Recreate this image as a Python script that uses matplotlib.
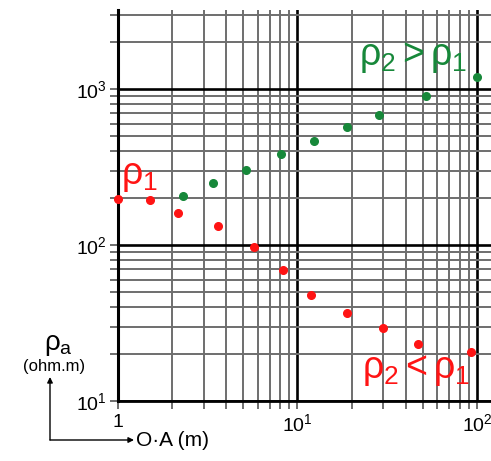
import numpy as np
import matplotlib
matplotlib.use("Agg")
import matplotlib.pyplot as plt

plt.rcParams["font.family"] = ["Liberation Sans", "DejaVu Sans"]
plt.rcParams["mathtext.fontset"] = "custom"
plt.rcParams["mathtext.rm"] = "Liberation Sans"
plt.rcParams["mathtext.it"] = "Liberation Sans"
plt.rcParams["mathtext.bf"] = "Liberation Sans:bold"

# apparent resistivity curves
oa_low = [1.0, 1.51, 2.16, 3.61, 5.72, 8.3, 11.9, 18.9, 29.9, 46.9, 92.6]
rho_low = [198, 196, 161, 132, 97, 69, 47.7, 36.6, 29.3, 23.1, 20.5]

oa_high = [2.30, 3.38, 5.17, 8.09, 12.4, 18.9, 28.5, 52.0, 100.0]
rho_high = [207, 251, 303, 385, 467, 574, 685, 908, 1203]

x_ticks = [1, 10, 100]
x_labels = ["1", r"$10^1$", r"$10^2$"]
y_ticks = [10, 100, 1000]
y_labels = [r"$10^1$", r"$10^2$", r"$10^3$"]

red = "#ff1414"
green = "#17883a"

fig = plt.figure(figsize=(4.91, 4.61), dpi=100)
ax = fig.add_axes([118 / 491, 1 - 401 / 461, 1 - 118 / 491, 391 / 461])
ax.set_xscale("log")
ax.set_yscale("log")
ax.set_xlim(1, 119.7)
ax.set_ylim(10, 3220)

ax.grid(which="minor", color="#6e6e6e", lw=1.4)
ax.grid(which="major", color="black", lw=1.9)
ax.set_axisbelow(True)

for s in ["top", "right"]:
    ax.spines[s].set_visible(False)
ax.spines["left"].set_linewidth(2.2)
ax.spines["bottom"].set_linewidth(2.0)

ax.set_xticks(x_ticks)
ax.set_xticklabels(x_labels, fontsize=14)
ax.set_yticks(y_ticks)
ax.set_yticklabels(y_labels, fontsize=14)
ax.tick_params(which="both", direction="out", length=6, width=1.2, color="#555555")
ax.tick_params(which="minor", labelbottom=False, labelleft=False)
ax.tick_params(axis="x", pad=3)
ax.tick_params(axis="y", pad=2)

ax.plot(oa_low, rho_low, "o", color=red, ms=5.5, mec=red, clip_on=False, zorder=5)
ax.plot(oa_high, rho_high, "o", color=green, ms=5.5, mec=green, clip_on=False, zorder=5)

ax.text(1.04, 212, r"$\rho_1$", color=red, fontsize=27, va="bottom", ha="left")
ax.text(22.0, 1230, r"$\rho_2>\rho_1$", color=green, fontsize=27, va="bottom", ha="left")
ax.text(23.0, 12.2, r"$\rho_2<\rho_1$", color=red, fontsize=27, va="bottom", ha="left")

# axis captions with the L-shaped arrows
fig.text(58 / 491, 1 - 345 / 461, r"$\rho_a$", fontsize=20, ha="center", va="center")
fig.text(54 / 491, 1 - 367 / 461, "(ohm.m)", fontsize=12, ha="center", va="center")
fig.text(136 / 491, 1 - 440 / 461, "O·A (m)", fontsize=15, ha="left", va="center")

corner = (50, 461 - 440)
ax.annotate("", xy=(50, 461 - 377), xytext=corner, xycoords="figure pixels",
            textcoords="figure pixels",
            arrowprops=dict(arrowstyle="-|>", color="black", lw=1.0,
                            mutation_scale=8, shrinkA=0, shrinkB=0))
ax.annotate("", xy=(134, 461 - 440), xytext=corner, xycoords="figure pixels",
            textcoords="figure pixels",
            arrowprops=dict(arrowstyle="-|>", color="black", lw=1.0,
                            mutation_scale=8, shrinkA=0, shrinkB=0))

fig.savefig("out.png", dpi=100)
